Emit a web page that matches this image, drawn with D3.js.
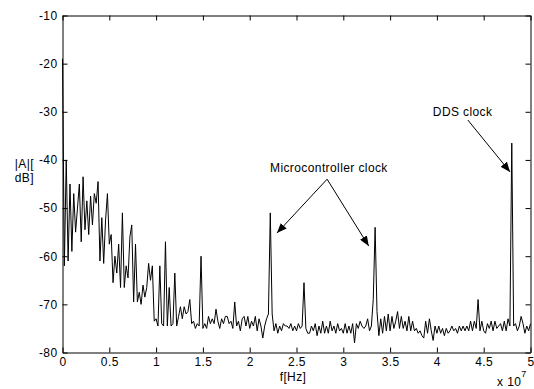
<!DOCTYPE html>
<html>
<head>
<meta charset="utf-8">
<script src="https://cdn.jsdelivr.net/npm/d3@7"></script>
<style>
  body { margin: 0; background: #fff; }
  svg { display: block; }
  text { font-family: "Liberation Sans", Arial, sans-serif; fill: #000; letter-spacing: 0.4px; }
</style>
</head>
<body>
<div id="chart"></div>
<script>
// spectrum magnitude |A| in dB, one value per FFT bin (bin width 0.2 MHz)
var binWidth = 2e5;
var amp = [
  -19, -62, -40, -61, -45, -59, -47, -55, -50, -45,
  -57, -43.5, -54.5, -48.5, -55.5, -47.5, -53.5, -47, -49, -44.5,
  -61, -52, -61.5, -52.5, -47, -57.5, -55.5, -65.5, -60, -63.5,
  -57.5, -66.5, -51, -66.5, -62, -64.5, -56, -53.5, -69.5, -57.5,
  -69.5, -67.5, -70, -66, -68.5, -66.5, -61.5, -65, -62, -73.5,
  -73, -74.5, -62, -74, -74.5, -57, -74.5, -66.5, -74.5, -74,
  -63.5, -74.5, -72.5, -70.5, -73, -70.5, -72, -71.5, -69, -74,
  -73.5, -75, -74, -74.5, -60, -75, -74, -75, -72.5, -74,
  -73, -74, -71, -73.5, -75, -73, -74, -72.5, -72.5, -74,
  -73.5, -75, -69.5, -74.5, -73.5, -75.5, -73, -72.5, -74.5, -72.5,
  -75, -73.5, -74.5, -72.5, -75.5, -73, -74.5, -77, -74.5, -73,
  -72, -51, -72, -75.5, -74, -76, -74.5, -75.5, -74, -74.5,
  -74.5, -75, -74, -75.5, -74.5, -75.5, -74, -75, -74.5, -65.5,
  -75, -76, -76, -74.5, -75.5, -74, -76.5, -74.5, -76, -73.5,
  -76, -74.5, -76, -73.5, -75.5, -74.5, -76, -74, -75.5, -75,
  -76, -74, -76, -74.5, -76, -74, -78, -74, -75, -73.5,
  -74.5, -75, -74.5, -73, -75.5, -74.5, -69, -54, -71.5, -76.5,
  -73, -76, -72.5, -75.5, -72, -75.5, -72.5, -75, -73.5, -71.5,
  -75, -72.5, -75, -73.5, -75.5, -72.5, -75.5, -73.5, -75.5, -75,
  -76, -75.5, -76.5, -77, -73.5, -76, -73, -75.5, -77.5, -74.5,
  -76, -74.5, -76, -75, -76.5, -75, -76, -75.5, -74.5, -75.5,
  -75, -76, -74.5, -75.5, -74.5, -75.5, -74.5, -75.5, -73.5, -75.5,
  -73.5, -75, -69, -75.5, -73.5, -75.5, -76, -74, -75, -73.5,
  -75.5, -73.5, -75, -74.5, -74, -75.5, -73.5, -75.5, -73, -74.5,
  -36.5, -74.5, -74, -75.5, -74.5, -72.5, -74, -76, -74.5, -75.5,
  -74
];
var freq = amp.map(function (d, i) { return i * binWidth; });

var xTicks = [0, 0.5e7, 1e7, 1.5e7, 2e7, 2.5e7, 3e7, 3.5e7, 4e7, 4.5e7, 5e7];
var yTicks = [-80, -70, -60, -50, -40, -30, -20, -10];

// annotations: text anchor and arrow tips in data units (Hz, dB)
var notes = [
  { text: "Microcontroller clock", f: 2.846e7, db: -42.5, from: [2.827e7, -44.0],
    tips: [[2.291e7, -55.2], [3.272e7, -57.9]] },
  { text: "DDS clock", f: 4.275e7, db: -30.9, from: [4.33e7, -31.7],
    tips: [[4.782e7, -42.5]] }
];

var W = 534, H = 389;
var box = { left: 62.5, right: 530.5, top: 15.5, bottom: 352.5 };
var fs = 12;

var svg = d3.select("#chart").append("svg")
  .attr("width", W)
  .attr("height", H);

var x = d3.scaleLinear().domain([0, 5e7]).range([box.left, box.right]);
var y = d3.scaleLinear().domain([-80, -10]).range([box.bottom, box.top]);

svg.append("defs").append("marker")
  .attr("id", "head")
  .attr("markerUnits", "userSpaceOnUse")
  .attr("viewBox", "0 0 10 8")
  .attr("refX", 10).attr("refY", 4)
  .attr("markerWidth", 10).attr("markerHeight", 8)
  .attr("orient", "auto")
  .append("path")
  .attr("d", "M0,0 L10,4 L0,8 Z")
  .attr("fill", "#000");

// the spectrum
var line = d3.line()
  .x(function (d, i) { return x(freq[i]); })
  .y(function (d) { return y(d); });

svg.append("path")
  .datum(amp)
  .attr("d", line)
  .attr("fill", "none")
  .attr("stroke", "#000")
  .attr("stroke-width", 1)
  .attr("stroke-linejoin", "miter");

// axes, ticks drawn inward like matlab
function styleAxis(g) {
  g.selectAll(".domain").attr("stroke", "#000");
  g.selectAll(".tick line").attr("stroke", "#000");
  g.selectAll("text").attr("font-size", fs).attr("fill", "#000")
    .attr("font-family", "Liberation Sans, Arial, sans-serif");
}

svg.append("g")
  .attr("transform", "translate(0," + box.bottom + ")")
  .call(d3.axisBottom(x).tickValues(xTicks).tickSize(-5).tickSizeOuter(0).tickPadding(5)
    .tickFormat(function (d) { return String(+(d / 1e7).toFixed(1)); }))
  .call(styleAxis);

svg.append("g")
  .attr("transform", "translate(0," + box.top + ")")
  .call(d3.axisTop(x).tickValues(xTicks).tickSize(-5).tickSizeOuter(0).tickFormat(""))
  .call(styleAxis);

svg.append("g")
  .attr("transform", "translate(" + box.left + ",0)")
  .call(d3.axisLeft(y).tickValues(yTicks).tickSize(-5).tickSizeOuter(0).tickPadding(5)
    .tickFormat(function (d) { return String(d); }))
  .call(styleAxis);

svg.append("g")
  .attr("transform", "translate(" + box.right + ",0)")
  .call(d3.axisRight(y).tickValues(yTicks).tickSize(-5).tickSizeOuter(0).tickFormat(""))
  .call(styleAxis);

// axis labels
svg.append("text")
  .attr("x", 293).attr("y", 381)
  .attr("text-anchor", "middle")
  .attr("font-size", fs)
  .text("f[Hz]");

var ylab = svg.append("text")
  .attr("text-anchor", "end")
  .attr("font-size", fs);
ylab.append("tspan").attr("x", 34).attr("y", 168).text("|A|[");
ylab.append("tspan").attr("x", 34).attr("y", 182).text("dB]");

var exp = svg.append("text")
  .attr("x", 497).attr("y", 385.5)
  .attr("font-size", fs);
exp.append("tspan").text("x 10");
exp.append("tspan").attr("dy", -9).attr("font-size", 9).text("7");

// annotations
notes.forEach(function (n) {
  svg.append("text")
    .attr("x", x(n.f)).attr("y", y(n.db))
    .attr("text-anchor", "middle")
    .attr("font-size", fs)
    .text(n.text);
  n.tips.forEach(function (t) {
    svg.append("line")
      .attr("x1", x(n.from[0])).attr("y1", y(n.from[1]))
      .attr("x2", x(t[0])).attr("y2", y(t[1]))
      .attr("stroke", "#000")
      .attr("stroke-width", 1)
      .attr("marker-end", "url(#head)");
  });
});
</script>
</body>
</html>
